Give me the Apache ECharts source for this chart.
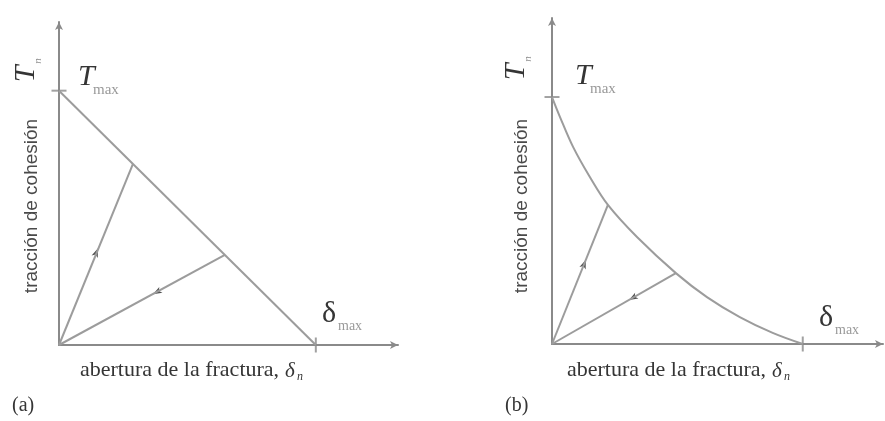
<!DOCTYPE html>
<html>
<head>
<meta charset="utf-8">
<script src="https://cdn.jsdelivr.net/npm/echarts@6/dist/echarts.min.js"></script>
<style>
  html, body { margin: 0; padding: 0; background: #ffffff; }
  #chart { width: 885px; height: 421px; }
</style>
</head>
<body>
<div id="chart"></div>
<script>
// Cohesive traction–separation laws: (a) linear softening, (b) exponential softening.
// Values are normalised: T/Tmax on the vertical axis, delta/delta_max on the horizontal axis.

const panelTags = ['(a)', '(b)'];
const yTitle = 'tracción de cohesión';
const xTitle = 'abertura de la fractura,';

// (a) linear softening envelope
const envelopeA = [[0, 1], [1, 0]];
// (a) unloading paths back to the origin (end points on the envelope)
const unloadEndsA = [[0.288, 0.712], [0.646, 0.354]];
// (a) direction markers along the unloading paths, and whether they point toward the origin
const arrowPtsA = [[0.152, 0.380], [0.366, 0.200]];
const arrowToOriginA = [false, true];

// (b) exponential softening envelope
const envelopeB = [
  [0.000, 1.000], [0.032, 0.919], [0.084, 0.798], [0.151, 0.676],
  [0.223, 0.563], [0.339, 0.433], [0.494, 0.287], [0.618, 0.190],
  [0.749, 0.109], [0.880, 0.045], [1.000, 0.000]
];
const unloadEndsB = [[0.223, 0.563], [0.494, 0.287]];
const arrowPtsB = [[0.135, 0.341], [0.307, 0.178]];
const arrowToOriginB = [false, true];

// reference marks: Tmax on the traction axis, delta_max on the opening axis
const peakTraction = 1;
const maxOpening = 1;

const AXIS = '#8a8a8a';
const LINE = '#9c9c9c';
const INK = '#353535';
const SERIF = '"Liberation Serif", "Times New Roman", serif';
const SANS = '"Liberation Sans", Arial, sans-serif';
const TITLE_FONT = '22px ' + SERIF;

// width of the horizontal title, so the delta_n symbol follows it
const measureCtx = document.createElement('canvas').getContext('2d');
measureCtx.font = TITLE_FONT;
const xTitleWidth = measureCtx.measureText(xTitle).width;

const chart = echarts.init(document.getElementById('chart'), null, { renderer: 'canvas' });

function axisPair(idx, xmax, ymax) {
  const common = {
    gridIndex: idx, type: 'value', min: 0,
    axisTick: { show: false }, axisLabel: { show: false }, splitLine: { show: false },
    axisLine: { show: true, symbol: ['none', 'arrow'], symbolSize: [6, 8],
      lineStyle: { color: AXIS, width: 2 } }
  };
  return [
    Object.assign({}, common, { max: xmax }),
    Object.assign({}, common, { max: ymax })
  ];
}

const [xa, ya] = axisPair(0, 1.32, 1.27);
const [xb, yb] = axisPair(1, 1.32, 1.32);

function pathSeries(idx, data, smooth) {
  return {
    type: 'line', xAxisIndex: idx, yAxisIndex: idx, data: data,
    showSymbol: false, smooth: smooth ? 0.35 : false, silent: true,
    lineStyle: { color: LINE, width: 2 }
  };
}

function arrowSeries(idx, pts, ends, toOrigin) {
  return {
    type: 'scatter', xAxisIndex: idx, yAxisIndex: idx, silent: true,
    symbol: 'arrow', symbolSize: [5, 9],
    itemStyle: { color: '#262626' },
    data: pts.map((p, i) => {
      const ang = Math.atan2(ends[i][1], ends[i][0]) * 180 / Math.PI - 90;
      return { value: p, symbolRotate: toOrigin[i] ? ang + 180 : ang };
    })
  };
}

function tickSeries(idx) {
  return [
    { type: 'scatter', xAxisIndex: idx, yAxisIndex: idx, silent: true,
      symbol: 'rect', symbolSize: [15, 2], itemStyle: { color: AXIS },
      data: [[0, peakTraction]] },
    { type: 'scatter', xAxisIndex: idx, yAxisIndex: idx, silent: true,
      symbol: 'rect', symbolSize: [2, 15], itemStyle: { color: AXIS },
      data: [[maxOpening, 0]] }
  ];
}

const series = [];
series.push(pathSeries(0, envelopeA, false));
unloadEndsA.forEach(e => series.push(pathSeries(0, [[0, 0], e], false)));
series.push(arrowSeries(0, arrowPtsA, unloadEndsA, arrowToOriginA));
series.push(...tickSeries(0));

series.push(pathSeries(1, envelopeB, true));
unloadEndsB.forEach(e => series.push(pathSeries(1, [[0, 0], e], false)));
series.push(arrowSeries(1, arrowPtsB, unloadEndsB, arrowToOriginB));
series.push(...tickSeries(1));

function txt(text, x, y, opts) {
  return Object.assign({
    type: 'text', x: x, y: y, silent: true,
    style: Object.assign({
      text: text, fill: INK, align: 'left', verticalAlign: 'middle',
      font: '20px ' + SERIF
    }, opts.style || {})
  }, opts.el || {});
}

// labels for one panel
function panelLabels(p) {
  const r = Math.PI / 2;
  const dX = p.xtX + xTitleWidth + 6;
  return [
    // rotated axis symbol T_n
    txt('T', p.tnX, p.tnY, { style: { font: 'italic 30px ' + SERIF, align: 'center' }, el: { rotation: r } }),
    txt('n', p.tnX + 12, p.tnY - 13, { style: { font: 'italic 11px ' + SERIF, fill: '#888', align: 'center' }, el: { rotation: r } }),
    // rotated axis title
    txt(yTitle, p.ytX, 206, { style: { font: '19px ' + SANS, fill: '#4a4a4a', align: 'center' }, el: { rotation: r } }),
    // T_max
    txt('T', p.tmX, p.tmY, { style: { font: 'italic 30px ' + SERIF } }),
    txt('max', p.tmX + 15, p.tmY + 13, { style: { font: '15px ' + SERIF, fill: '#999' } }),
    // delta_max
    txt('δ', p.dmX, p.dmY, { style: { font: '30px ' + SERIF } }),
    txt('max', p.dmX + 16, p.dmY + 12, { style: { font: '14px ' + SERIF, fill: '#999' } }),
    // horizontal axis title with delta_n
    txt(xTitle, p.xtX, 370, { style: { font: TITLE_FONT } }),
    txt('δ', dX, 371, { style: { font: 'italic 21px ' + SERIF } }),
    txt('n', dX + 12, 377, { style: { font: 'italic 12px ' + SERIF } }),
    // panel tag
    txt(p.tag, p.tagX, 406, { style: { font: '20px ' + SERIF } })
  ];
}

const graphics = [].concat(
  panelLabels({ tnX: 26, tnY: 74, ytX: 32, tmX: 78, tmY: 77, dmX: 322, dmY: 314, xtX: 80, tag: panelTags[0], tagX: 12 }),
  panelLabels({ tnX: 516, tnY: 72, ytX: 522, tmX: 575, tmY: 76, dmX: 819, dmY: 318, xtX: 567, tag: panelTags[1], tagX: 505 })
);

chart.setOption({
  backgroundColor: '#ffffff',
  animation: false,
  grid: [
    { left: 59, top: 22, width: 339, height: 323 },
    { left: 552, top: 18, width: 331, height: 326 }
  ],
  xAxis: [xa, xb],
  yAxis: [ya, yb],
  series: series,
  graphic: graphics
});
</script>
</body>
</html>
